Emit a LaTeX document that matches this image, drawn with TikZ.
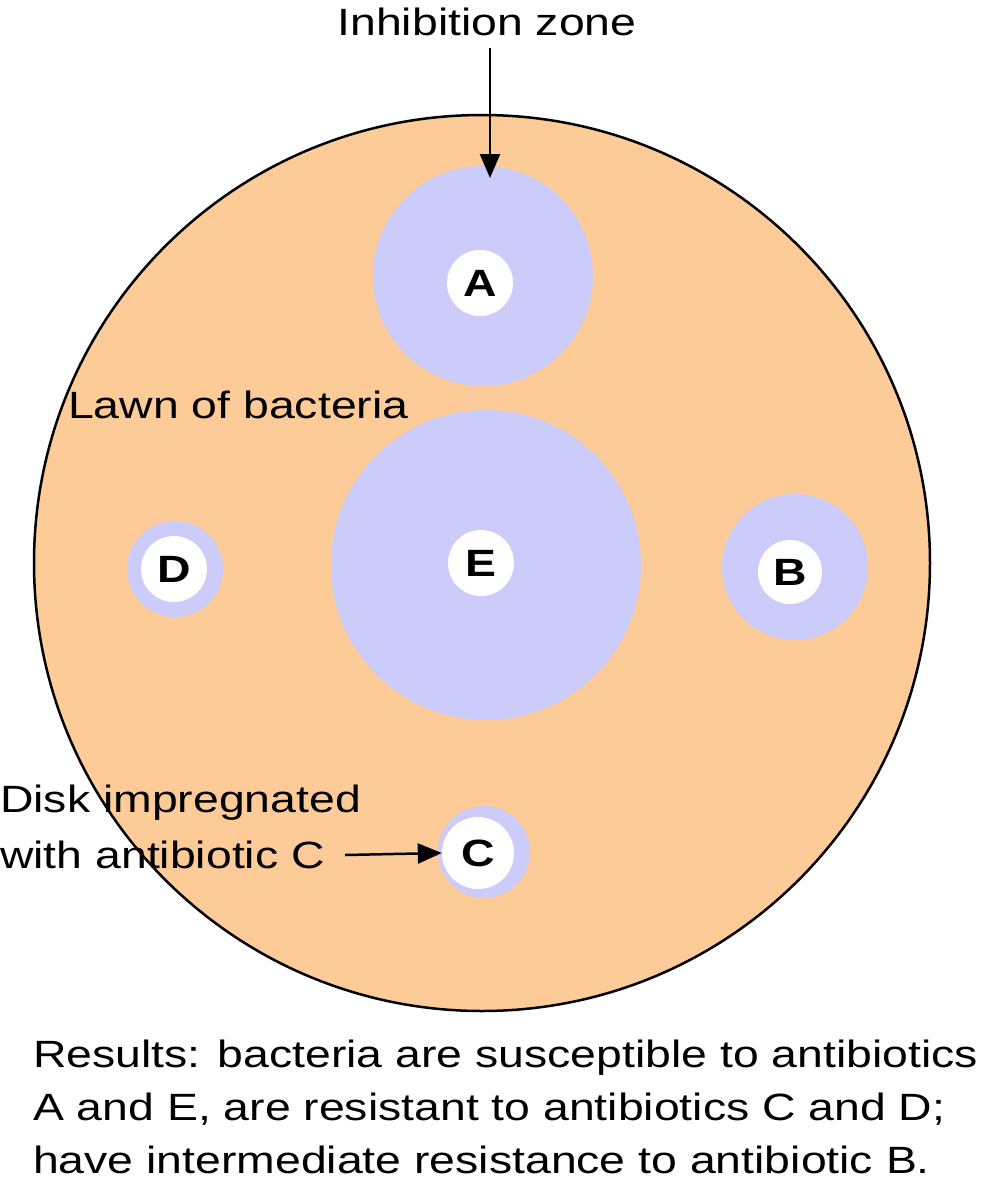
\documentclass[tikz,border=0pt]{standalone}
\usepackage{fontspec}
\setmainfont{Liberation Sans}[FakeStretch=1.22]
\usetikzlibrary{arrows.meta}
\definecolor{lawn}{HTML}{FCCB98}
\definecolor{zone}{HTML}{CCCCFA}
\tikzset{zonec/.style={fill=zone,draw=none},
disk/.style={circle,fill=white,inner sep=0pt,font=\fontsize{38}{40}\selectfont\bfseries},
lbl/.style={font=\fontsize{38}{53}\selectfont,inner sep=0pt},
arr/.style={-{Triangle[length=24pt,width=20pt]},line width=2.5pt}}
\begin{document}
\begin{tikzpicture}[x=1pt,y=-1pt]
\useasboundingbox (0,0) rectangle (987,1200);
\node[circle,fill=lawn,draw=black,line width=2.5pt,minimum size=896pt] (plate) at (482,563) {};
\fill[zonec] (483,276) circle (110);
\fill[zonec] (486,565) circle (155);
\fill[zonec] (795,567) circle (73);
\fill[zonec] (175,569) circle (48);
\fill[zonec] (484,852) circle (46);
\node[disk,minimum size=66pt] (A) at (480,283) {A};
\node[disk,minimum size=66pt] (E) at (481,563) {E};
\node[disk,minimum size=64pt] (B) at (790,572) {B};
\node[disk,minimum size=66pt] (D) at (174,569) {D};
\node[disk,minimum size=72pt] (C) at (478,853) {C};
\node[lbl] (iz) at (487,22) {Inhibition zone};
\coordinate (izend) at (490,178);
\draw[arr] (490,48) -- (izend);
\node[lbl,anchor=west] (lawnl) at (68,405) {Lawn of bacteria};
\node[lbl,anchor=west] (dk1) at (0,803) {Disk impregnated};
\node[lbl,anchor=west] (dk2) at (0,855) {with antibiotic C};
\coordinate (cs) at (345,855);
\draw[arr] (cs) -- (C.west);
\node[lbl,anchor=north west,align=left] (res) at (33,1040) {Results: bacteria are susceptible to antibiotics\\A and E, are resistant to antibiotics C and D;\\have intermediate resistance to antibiotic B.};
\end{tikzpicture}
\end{document}
